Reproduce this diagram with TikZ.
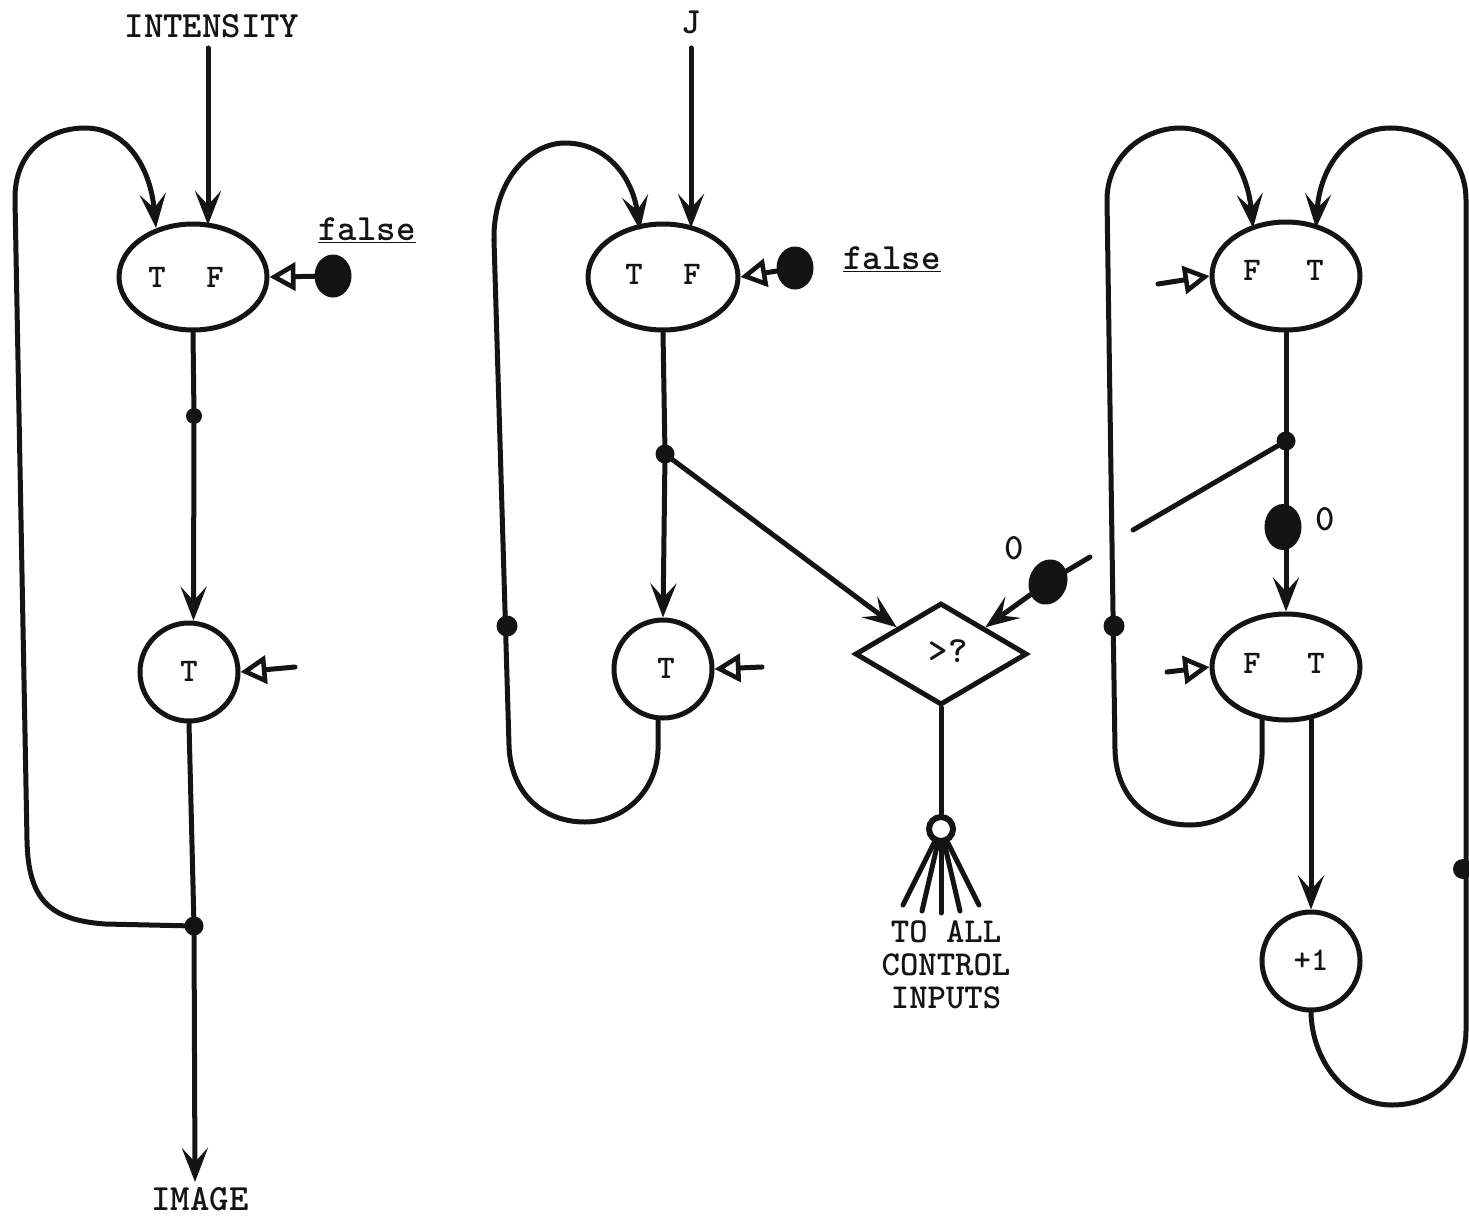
\documentclass[tikz,border=0pt]{standalone}
\usepackage{fontspec}
\usetikzlibrary{arrows.meta,shapes.geometric}
\definecolor{ink}{HTML}{141414}
\tikzset{
  x=1pt,y=-1pt,
  every path/.style={ink},
  wire/.style={line width=5pt,draw=ink,line cap=round},
  flow/.style={wire,-{Stealth[length=34pt,width=26pt,inset=14pt]}},
  ctrl/.style={wire,-{Triangle[open,fill=white,length=26pt,width=28pt,line width=4.6pt]}},
  oval/.style={ellipse,draw=ink,line width=5pt,inner sep=0pt,minimum width=148pt,minimum height=106pt,text=ink},
  round/.style={circle,draw=ink,line width=5pt,inner sep=0pt,minimum size=98pt,text=ink},
  junction/.style={circle,fill=ink,inner sep=0pt,minimum size=19pt},
  blob/.style={ellipse,fill=ink,inner sep=0pt,minimum width=37pt,minimum height=43pt},
  lab/.style={text=ink,font=\fontsize{37}{33}\ttfamily\bfseries\selectfont,inner sep=0pt},
  nm/.style={text=ink,font=\fontsize{33}{30}\ttfamily\bfseries\selectfont,inner sep=0pt},
  tolabel/.style={text=ink,font=\fontsize{35}{33}\ttfamily\bfseries\selectfont,inner sep=0pt},
}
\begin{document}
\begin{tikzpicture}
\useasboundingbox[fill=white] (0,0) rectangle (1469,1217);
% Left column
\node[lab] (inten) at (212,26) {INTENSITY};
\node[lab] (image) at (200,1199) {IMAGE};
\node[oval] (a1) at (193,277) {};
\node[nm] (a1t) at (157,277) {T};
\node[nm] (a1f) at (215,277) {F};
\node[round] (a2) at (189,672) {};
\node[nm] (a2t) at (189,671) {T};
\node[junction,minimum size=16pt] (aj1) at (194,416) {};
\node[junction] (aj2) at (194,926) {};
\node[blob] (ab) at (333,276) {};
\node[lab] (afalse) at (367,230) {\underline{false}};
\coordinate (ain) at (208,48);
\coordinate (ac) at (295,667);
\draw[flow] (ain) -- (208,225);
\draw[ctrl] (ab) -- (a1.east);
\draw[wire] (a1.south) -- (aj1);
\draw[flow] (aj1) -- (a2.85);
\draw[wire] (a2.south) -- (aj2);
\draw[flow] (aj2) -- (195,1182);
\draw[ctrl] (ac) -- (a2.east);
\draw[flow] (aj2) -- (105,924) .. controls (50,920) and (28,900) .. (27,840)
  -- (15,200) .. controls (14,150) and (50,128) .. (85,128) .. controls (125,128) and (150,165) .. (156,228);
% Middle column
\node[lab] (jl) at (691,22) {J};
\node[oval,minimum width=150pt] (b1) at (663,277) {};
\node[nm] (b1t) at (634,274) {T};
\node[nm] (b1f) at (692,274) {F};
\node[round] (b2) at (663,669) {};
\node[nm] (b2t) at (666,668) {T};
\node[junction] (bj1) at (665,454) {};
\node[junction,minimum size=21pt] (bj2) at (507,626) {};
\node[blob] (bb) at (795,268) {};
\node[lab] (bfalse) at (892,259) {\underline{false}};
\node[diamond,draw=ink,line width=5pt,inner sep=0pt,minimum width=172pt,minimum height=102pt] (dm) at (941,654) {};
\node[lab] (dmt) at (948,651) {>?};
\node[blob,minimum width=38pt,minimum height=46pt,rotate=-20] (db) at (1048,582) {};
\node[lab] (dz) at (1014,548) {0};
\node[circle,draw=ink,line width=6pt,inner sep=0pt,minimum size=24pt,fill=white] (ring) at (941,829) {};
\coordinate (bin) at (691,48);
\coordinate (bc) at (762,667);
\coordinate (dzs) at (1090,557);
\coordinate (f1) at (903,905);
\coordinate (f2) at (922,911);
\coordinate (f3) at (941,913);
\coordinate (f4) at (960,911);
\coordinate (f5) at (979,905);
\draw[flow] (bin) -- (691,228);
\draw[ctrl] (bb) -- (b1.east);
\draw[wire] (b1.south) -- (bj1);
\draw[flow] (bj1) -- (b2.north);
\draw[ctrl] (bc) -- (b2.east);
\draw[flow] (bj1) -- (dm.north west);
\draw[flow] (dzs) -- (db) -- (dm.north east);
\draw[wire] (dm.south) -- (ring);
\foreach \f in {f1,f2,f3,f4,f5}{\draw[wire] (ring) -- (\f);}
\node[tolabel] (tolab1) at (946,932) {TO ALL};
\node[tolabel] (tolab2) at (946,965) {CONTROL};
\node[tolabel] (tolab3) at (946,998) {INPUTS};
\draw[wire] (b2.south) ++(-5,0) -- (658,750) .. controls (656,795) and (620,822) .. (585,822) .. controls (540,822) and (510,790) .. (509,745)
  -- (494,240);
\draw[flow] (494,240) .. controls (493,180) and (530,143) .. (565,143) .. controls (605,143) and (632,175) .. (640,230);
% Right column
\node[oval,minimum height=108pt] (c1) at (1286,276) {};
\node[nm] (c1f) at (1252,270) {F};
\node[nm] (c1t) at (1315,270) {T};
\node[oval] (c2) at (1286,667) {};
\node[nm] (c2f) at (1252,663) {F};
\node[nm] (c2t) at (1316,663) {T};
\node[round] (c3) at (1311,961) {};
\node[nm] (c3t) at (1311,960) {+1};
\node[junction] (cj1) at (1286,441) {};
\node[junction,minimum size=21pt] (cj2) at (1114,626) {};
\node[junction,minimum size=20pt] (cj3) at (1463,869) {};
\node[blob,minimum height=46pt] (cb) at (1283,527) {};
\node[lab] (cz) at (1325,519) {0};
\coordinate (cstub) at (1133,530);
\coordinate (cc1) at (1158,284);
\coordinate (cc2) at (1167,672);
\draw[ctrl] (cc1) -- (c1.west);
\draw[ctrl] (cc2) -- (c2.west);
\draw[wire] (c1.south) -- (cj1);
\draw[wire] (cj1) -- (cstub);
\draw[flow] (cj1) -- (c2.north);
\draw[flow] (1311,720) -- (c3.north);
\draw[flow] (1262,718) -- (1262,755) .. controls (1260,800) and (1225,825) .. (1190,825) .. controls (1145,825) and (1116,795) .. (1115,750)
  -- (1107,200) .. controls (1107,155) and (1145,128) .. (1180,128) .. controls (1220,128) and (1247,165) .. (1253,228);
\draw[flow] (c3.south) .. controls (1312,1060) and (1345,1105) .. (1392,1105) .. controls (1440,1105) and (1466,1070) .. (1466,1030)
  -- (1466,200) .. controls (1466,155) and (1430,128) .. (1390,128) .. controls (1350,128) and (1320,165) .. (1316,228);
\end{tikzpicture}
\end{document}
